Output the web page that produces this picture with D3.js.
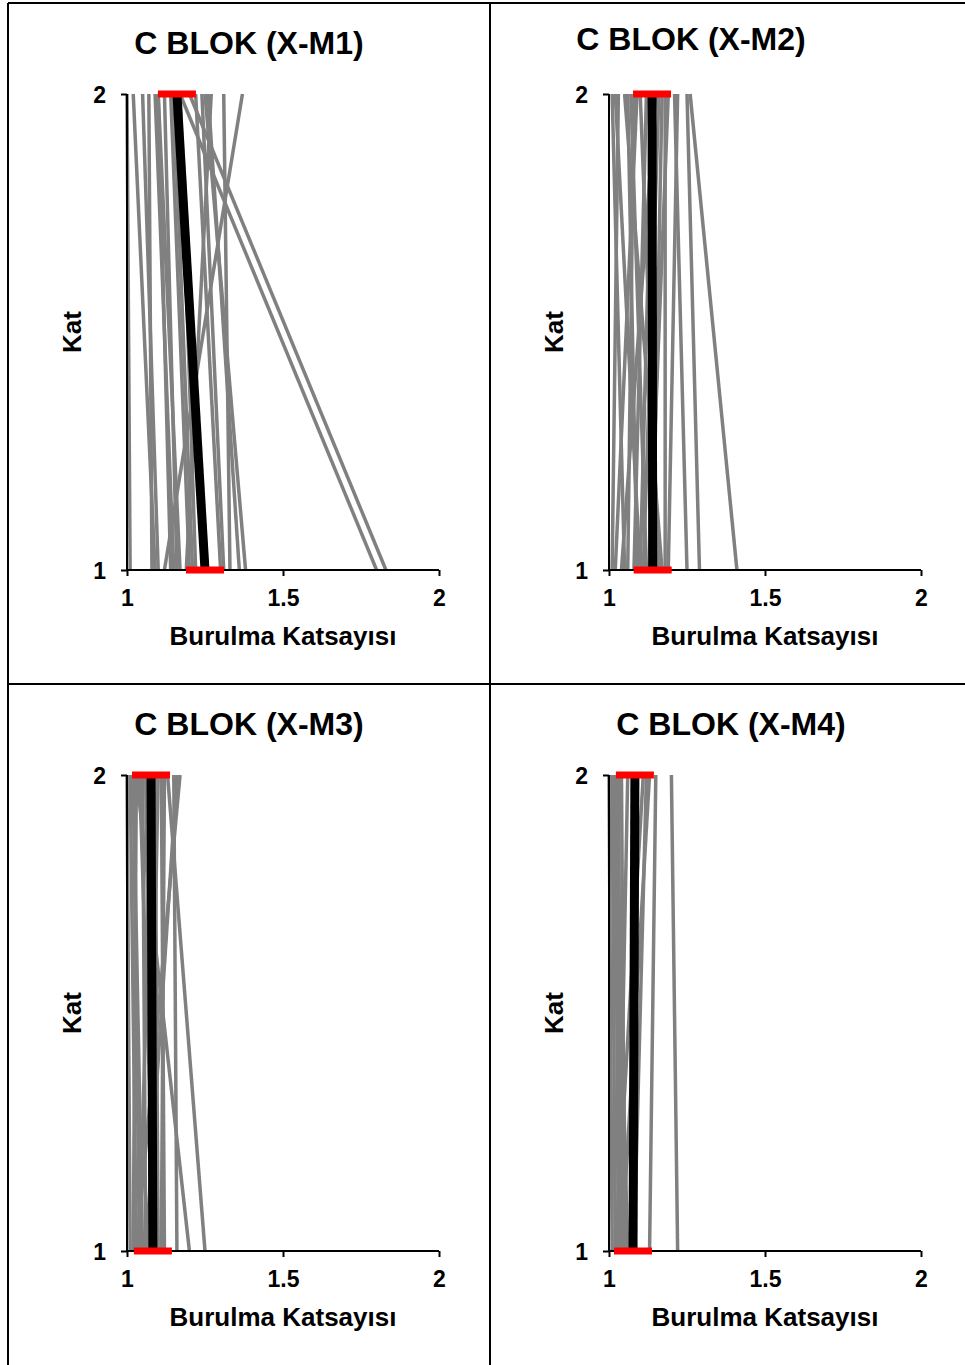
<!DOCTYPE html>
<html>
<head>
<meta charset="utf-8">
<script src="https://cdn.jsdelivr.net/npm/d3@7"></script>
<style>
  html, body { margin: 0; padding: 0; background: #fff; }
  svg { display: block; }
  text { font-family: "Liberation Sans", Arial, sans-serif; font-weight: bold; fill: #000; }
</style>
</head>
<body>
<svg id="chart" width="965" height="1365"></svg>
<script>
// Torsion coefficients per model: each pair is [floor 1 value, floor 2 value]
const titles = ["C BLOK (X-M1)", "C BLOK (X-M2)", "C BLOK (X-M3)", "C BLOK (X-M4)"];
const floors = [1, 2];
const xTicks = [1, 1.5, 2];
const yTicks = [1, 2];
const xLabel = "Burulma Katsayısı";
const yLabel = "Kat";

const casesM1 = [
  [1.01, 1.00], [1.09, 1.02], [1.10, 1.05], [1.08, 1.07], [1.15, 1.09],
  [1.14, 1.10], [1.16, 1.12], [1.20, 1.14], [1.21, 1.15], [1.22, 1.17],
  [1.80, 1.17], [1.83, 1.20], [1.30, 1.22], [1.31, 1.24], [1.36, 1.26],
  [1.19, 1.27], [1.33, 1.31], [1.38, 1.25], [1.12, 1.37], [1.17, 1.10]
];
const casesM2 = [
  [1.01, 1.03], [1.02, 1.09], [1.05, 1.01], [1.09, 1.06], [1.10, 1.14],
  [1.12, 1.07], [1.14, 1.17], [1.16, 1.10], [1.18, 1.18], [1.19, 1.22],
  [1.25, 1.21], [1.29, 1.25], [1.41, 1.26], [1.11, 1.16], [1.04, 1.15],
  [1.08, 1.12], [1.13, 1.19], [1.17, 1.05], [1.06, 1.08], [1.10, 1.02]
];
const casesM3 = [
  [1.01, 1.00], [1.02, 1.03], [1.03, 1.01], [1.04, 1.08], [1.05, 1.02],
  [1.06, 1.05], [1.07, 1.10], [1.08, 1.06], [1.09, 1.04], [1.11, 1.12],
  [1.12, 1.11], [1.16, 1.15], [1.20, 1.03], [1.25, 1.13], [1.10, 1.09],
  [1.03, 1.17], [1.04, 1.02], [1.06, 1.16]
];
const casesM4 = [
  [1.01, 1.00], [1.02, 1.01], [1.03, 1.02], [1.04, 1.03], [1.05, 1.04],
  [1.06, 1.02], [1.07, 1.09], [1.02, 1.11], [1.13, 1.15], [1.22, 1.20],
  [1.04, 1.13], [1.08, 1.12], [1.05, 1.01], [1.03, 1.06]
];
// Mean torsion coefficient per floor [floor 1, floor 2]
const meanM1 = [1.25, 1.16];
const meanM2 = [1.14, 1.138];
const meanM3 = [1.083, 1.077];
const meanM4 = [1.077, 1.083];

const allCases = [casesM1, casesM2, casesM3, casesM4];
const allMeans = [meanM1, meanM2, meanM3, meanM4];

// Panel frames
const panels = [
  { left: 127, right: 439, top: 94,  bottom: 570,  titleX: 249, titleY: 54,  labelY: 645,  katX: 81 },
  { left: 609, right: 921, top: 94,  bottom: 570,  titleX: 691, titleY: 50,  labelY: 645,  katX: 563 },
  { left: 127, right: 439, top: 775, bottom: 1251, titleX: 249, titleY: 735, labelY: 1326, katX: 81 },
  { left: 609, right: 921, top: 775, bottom: 1251, titleX: 731, titleY: 735, labelY: 1326, katX: 563 }
];

const svg = d3.select("#chart");

// Frame lines separating the four charts
const frame = svg.append("g").attr("stroke", "#000").attr("stroke-width", 2);
frame.append("line").attr("x1", 8).attr("x2", 965).attr("y1", 3).attr("y2", 3);
frame.append("line").attr("x1", 8).attr("x2", 8).attr("y1", 3).attr("y2", 1365);
frame.append("line").attr("x1", 490).attr("x2", 490).attr("y1", 3).attr("y2", 1365);
frame.append("line").attr("x1", 8).attr("x2", 965).attr("y1", 684).attr("y2", 684);

panels.forEach((p, i) => {
  const g = svg.append("g");
  const x = d3.scaleLinear().domain([1, 2]).range([p.left, p.right]);
  const y = d3.scaleLinear().domain([1, 2]).range([p.bottom, p.top]);
  const line = d3.line().x(d => x(d[0])).y(d => y(d[1]));

  // individual analysis cases
  g.append("g").selectAll("path")
    .data(allCases[i])
    .join("path")
    .attr("d", c => line(floors.map((f, k) => [c[k], f])))
    .attr("fill", "none")
    .attr("stroke", "#808080")
    .attr("stroke-width", 3.5);

  // mean line
  const m = allMeans[i];
  g.append("path")
    .attr("d", line(floors.map((f, k) => [m[k], f])))
    .attr("fill", "none")
    .attr("stroke", "#000")
    .attr("stroke-width", 9);

  // axes
  const xAxis = g.append("g")
    .attr("transform", `translate(0,${p.bottom})`)
    .call(d3.axisBottom(x).tickValues(xTicks).tickSize(6).tickFormat(d3.format("")));
  const yAxis = g.append("g")
    .attr("transform", `translate(${p.left},0)`)
    .call(d3.axisLeft(y).tickValues(yTicks).tickSize(6).tickFormat(d3.format("d")));
  [xAxis, yAxis].forEach(a => {
    a.select(".domain").attr("stroke", "#000").attr("stroke-width", 2);
    a.selectAll(".tick line").attr("stroke", "#000").attr("stroke-width", 2);
    a.selectAll(".tick text").attr("font-size", 23).attr("fill", "#000")
      .attr("font-family", "Liberation Sans, Arial, sans-serif").attr("font-weight", "bold");
  });
  xAxis.select(".domain").attr("d", `M${p.left},0H${p.right}`);
  yAxis.select(".domain").attr("d", `M0,${p.bottom}V${p.top}`);
  xAxis.selectAll(".tick text").attr("dy", "0.71em").attr("y", 20);
  yAxis.selectAll(".tick text").attr("x", -21).attr("dy", "0.36em");

  // mean markers at each floor
  g.append("g").selectAll("rect")
    .data(floors.map((f, k) => [m[k], f]))
    .join("rect")
    .attr("x", d => x(d[0]) - 19)
    .attr("y", d => y(d[1]) - 3.5)
    .attr("width", 38)
    .attr("height", 7)
    .attr("fill", "#ff0000");

  // titles
  g.append("text")
    .attr("x", p.titleX).attr("y", p.titleY)
    .attr("text-anchor", "middle").attr("font-size", 32)
    .text(titles[i]);
  g.append("text")
    .attr("x", (p.left + p.right) / 2).attr("y", p.labelY)
    .attr("text-anchor", "middle").attr("font-size", 26)
    .text(xLabel);
  g.append("text")
    .attr("transform", `translate(${p.katX},${(p.top + p.bottom) / 2}) rotate(-90)`)
    .attr("text-anchor", "middle").attr("font-size", 26)
    .text(yLabel);
});
</script>
</body>
</html>
